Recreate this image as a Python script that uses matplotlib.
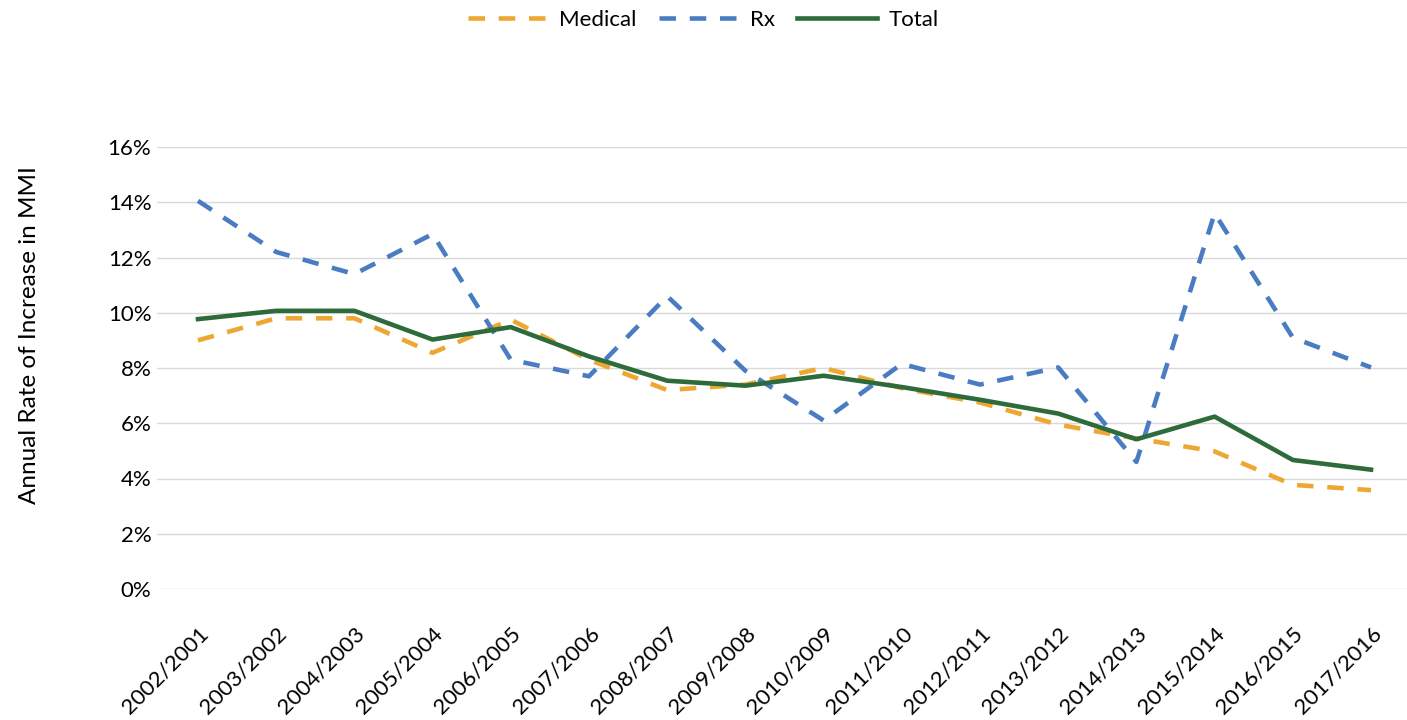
import matplotlib
matplotlib.use("Agg")
from matplotlib import pyplot as plt
from matplotlib.ticker import FuncFormatter, MultipleLocator

periods = ["2002/2001", "2003/2002", "2004/2003", "2005/2004", "2006/2005", "2007/2006",
           "2008/2007", "2009/2008", "2010/2009", "2011/2010", "2012/2011", "2013/2012",
           "2014/2013", "2015/2014", "2016/2015", "2017/2016"]

# annual rate of increase, percent
medical = [9.0, 9.8, 9.8, 8.55, 9.75, 8.3, 7.2, 7.4, 8.0, 7.27, 6.75, 5.95, 5.45, 4.98, 3.77, 3.58]
rx = [14.05, 12.2, 11.4, 12.85, 8.3, 7.7, 10.6, 7.9, 6.1, 8.15, 7.4, 8.02, 4.6, 13.6, 9.1, 8.02]
total = [9.77, 10.07, 10.07, 9.03, 9.48, 8.42, 7.54, 7.36, 7.72, 7.31, 6.85, 6.35, 5.42, 6.24, 4.67, 4.32]

plt.rcParams['font.family'] = ['Lato', 'DejaVu Sans']
fsize = 16

fig = plt.figure(figsize=(14.07, 7.2), dpi=100)
ax = fig.add_axes([157 / 1407, 131 / 720, 1250 / 1407, 442 / 720])

x = list(range(len(periods)))
ax.plot(x, medical, color='#EDA732', lw=3.3, dashes=(3.6, 3.0), label='Medical')
ax.plot(x, rx, color='#4A7CC4', lw=3.3, dashes=(3.6, 3.0), label='Rx')
ax.plot(x, total, color='#2E6B3A', lw=3.3, label='Total')

ax.set_xlim(-0.524, 15.46)
ax.set_ylim(0, 16)
ax.yaxis.set_major_locator(MultipleLocator(2))
ax.yaxis.set_major_formatter(FuncFormatter(lambda v, p: f"{v:.0f}%"))
ax.grid(axis='y', color='#D9D9D9', lw=1)
ax.set_axisbelow(True)
for s in ax.spines.values():
    s.set_visible(False)

ax.set_xticks(x)
ax.set_xticklabels(periods, rotation=45, ha='right', rotation_mode='anchor')
ax.tick_params(axis='both', length=0, labelsize=fsize, colors='black')
ax.tick_params(axis='x', pad=25)
ax.tick_params(axis='y', pad=4)

ax.set_ylabel('Annual Rate of Increase in MMI', fontsize=17.5, labelpad=49, y=0.575)

fig.legend(loc='upper center', bbox_to_anchor=(0.5, 1.014), ncol=3, frameon=False,
           fontsize=fsize, handlelength=3.6, columnspacing=1.0, handletextpad=0.5)

fig.savefig('out.png', dpi=100)
